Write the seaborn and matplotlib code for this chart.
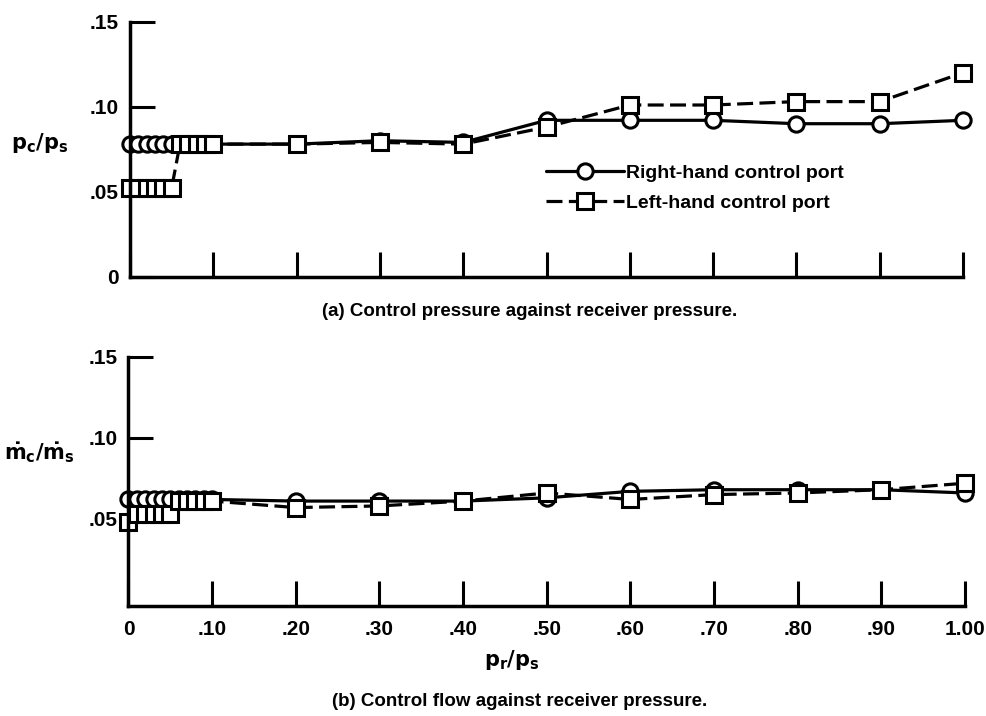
import numpy as np
import pandas as pd
import seaborn as sns
import matplotlib
matplotlib.use("Agg")
import matplotlib.pyplot as plt

# receiver pressure ratio p_r/p_s
pr_ps = [0.0, 0.01, 0.02, 0.03, 0.04, 0.05, 0.06, 0.07, 0.08, 0.09, 0.10,
         0.20, 0.30, 0.40, 0.50, 0.60, 0.70, 0.80, 0.90, 1.00]

# (a) control pressure p_c/p_s
pc_right = [0.078, 0.078, 0.078, 0.078, 0.078, 0.078, 0.078, 0.078, 0.078, 0.078, 0.078,
            0.078, 0.080, 0.079, 0.092, 0.092, 0.092, 0.090, 0.090, 0.092]
pc_left = [0.052, 0.052, 0.052, 0.052, 0.052, 0.052, 0.078, 0.078, 0.078, 0.078, 0.078,
           0.078, 0.079, 0.078, 0.088, 0.101, 0.101, 0.103, 0.103, 0.120]

# (b) control flow mdot_c/mdot_s
mc_right = [0.062, 0.062, 0.062, 0.062, 0.062, 0.062, 0.062, 0.062, 0.062, 0.062, 0.062,
            0.061, 0.061, 0.061, 0.063, 0.067, 0.068, 0.068, 0.068, 0.066]
mc_left = [0.048, 0.053, 0.053, 0.053, 0.053, 0.053, 0.061, 0.061, 0.061, 0.061, 0.061,
           0.057, 0.058, 0.061, 0.066, 0.062, 0.065, 0.066, 0.068, 0.072]

legend_labels = ["Right-hand control port", "Left-hand control port"]
ytick_top = [0, 0.05, 0.10, 0.15]
ytick_top_labels = ["0", ".05", ".10", ".15"]
ytick_bot = [0.05, 0.10, 0.15]
ytick_bot_labels = [".05", ".10", ".15"]
xticks = [0.0, 0.1, 0.2, 0.3, 0.4, 0.5, 0.6, 0.7, 0.8, 0.9, 1.0]
xtick_labels = ["0", ".10", ".20", ".30", ".40", ".50", ".60", ".70", ".80", ".90", "1.00"]

sns.set_theme(style="white")
plt.rcParams['font.family'] = ['Liberation Sans', 'DejaVu Sans']
plt.rcParams['font.weight'] = 'bold'
plt.rcParams['mathtext.default'] = 'bf'
for k in ['text.color', 'axes.labelcolor', 'xtick.color', 'ytick.color']:
    plt.rcParams[k] = 'black'

fig = plt.figure(figsize=(9.86, 7.16), dpi=100)
ax1 = fig.add_axes([0.1318, 0.6135, 0.845, 0.3562])
ax2 = fig.add_axes([0.1303, 0.1536, 0.8484, 0.3482])

line_kw = dict(color="black", lw=2.3, markersize=11, markerfacecolor="white",
               markeredgecolor="black", markeredgewidth=2.2, clip_on=False)
dash = (0, (5, 2))


def style_axis(ax):
    for s in ["top", "right"]:
        ax.spines[s].set_visible(False)
    for s in ["left", "bottom"]:
        ax.spines[s].set_linewidth(2.5)
        ax.spines[s].set_color("black")
    ax.tick_params(direction="in", length=18, width=2.2, colors="black",
                   left=True, bottom=True, labelsize=15, pad=8)
    ax.set_xlim(0, 1.0)
    ax.set_xticks(xticks)


# (a) control pressure
sns.lineplot(x=pr_ps, y=pc_right, ax=ax1, marker="o", label=legend_labels[0], **line_kw)
sns.lineplot(x=pr_ps, y=pc_left, ax=ax1, marker="s", linestyle=dash,
             label=legend_labels[1], **line_kw)
style_axis(ax1)
ax1.set_ylim(0, 0.15)
ax1.set_yticks(ytick_top)
ax1.set_yticklabels(ytick_top_labels)
ax1.set_xticklabels([])
ax1.set_ylabel(r"$p_c/p_s$", rotation=0, fontsize=15)
ax1.yaxis.set_label_coords(-0.108, 0.477)
ax1.set_xlabel("")
leg = ax1.legend(loc="upper left", bbox_to_anchor=(0.49, 0.47), frameon=False,
                 handlelength=4.0, handletextpad=0.1, labelspacing=0.6,
                 fontsize=14, borderaxespad=0)
for h in leg.get_lines():
    h.set_linewidth(2.3)

# (b) control flow
sns.lineplot(x=pr_ps, y=mc_right, ax=ax2, marker="o", legend=False, **line_kw)
sns.lineplot(x=pr_ps, y=mc_left, ax=ax2, marker="s", linestyle=dash, legend=False, **line_kw)
style_axis(ax2)
ax2.set_ylim(-0.0037, 0.15)
ax2.set_yticks(ytick_bot)
ax2.set_yticklabels(ytick_bot_labels)
ax2.set_xticklabels(xtick_labels)
ax2.tick_params(axis="x", pad=10)
ax2.set_ylabel(r"$\dot{m}_c/\dot{m}_s$", rotation=0, fontsize=15)
ax2.yaxis.set_label_coords(-0.106, 0.566)
ax2.set_xlabel(r"$p_r/p_s$", fontsize=15)
ax2.xaxis.set_label_coords(0.458, -0.17)

fig.text(0.5375, 0.5656, "(a) Control pressure against receiver pressure.",
         ha="center", va="center", fontsize=13.5, fontweight="bold")
fig.text(0.527, 0.0196, "(b) Control flow against receiver pressure.",
         ha="center", va="center", fontsize=13.5, fontweight="bold")

fig.savefig("out.png", dpi=100, facecolor="white")
